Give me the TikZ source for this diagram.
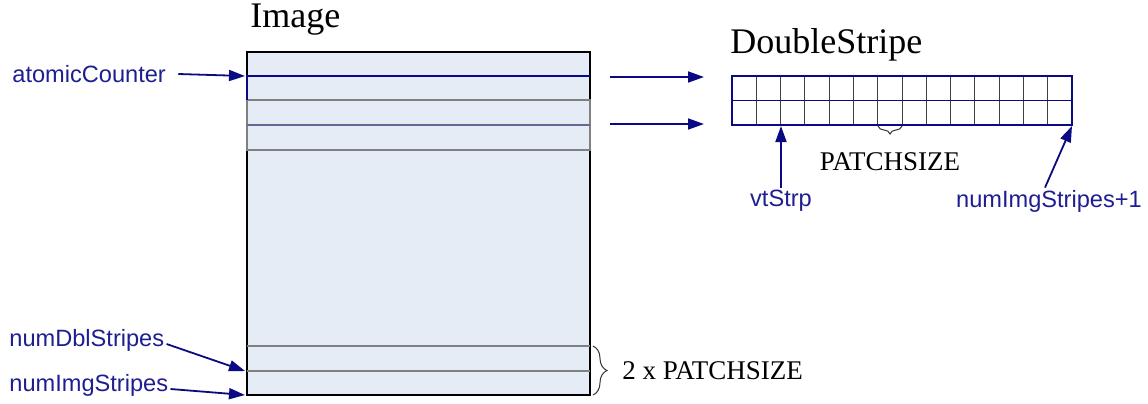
\documentclass[tikz,border=0pt]{standalone}
\usepackage{fontspec}
\setmainfont{Liberation Serif}
\setsansfont{Liberation Sans}
\usetikzlibrary{arrows.meta, decorations.pathreplacing}
\definecolor{lblblue}{RGB}{30,30,145}
\definecolor{arrblue}{RGB}{10,10,130}
\definecolor{imgfill}{RGB}{229,236,246}

\begin{document}
\begin{tikzpicture}[x=0.5pt, y=-0.5pt,
    lbl/.style = {font=\sffamily\fontsize{11.8}{14}\selectfont, text=lblblue, inner sep=1pt},
    ttl/.style = {font=\fontsize{18}{21}\selectfont, inner sep=0pt},
    sz/.style = {font=\fontsize{13.5}{16}\selectfont, inner sep=0pt},
    ptr/.style = {draw=arrblue, line width=0.9pt, -{Triangle[length=8pt, width=5.5pt]}},
    stripe/.style = {draw=gray, line width=0.9pt},
    brc/.style = {decorate, draw=black!80, line width=0.5pt}]
    \useasboundingbox (0,0) rectangle (1148,403);

    % image with its stripes
    \node[ttl, anchor=west] at (250,20) (imgtitle) {Image};
    \draw[fill=imgfill, line width=1.2pt] (247,52) rectangle (590,395);
    \draw[stripe] (247,100) rectangle (590,150);
    \draw[stripe, draw=gray!80!blue] (247,125) -- (590,125);
    \draw[stripe] (247,346) -- (590,346);
    \draw[stripe] (247,371) -- (590,371);
    \draw[arrblue, line width=0.9pt] (247,100) -- (247,76) -- (590,76);
    \coordinate (acTip) at (245,76);
    \coordinate (dblTip) at (245,371);
    \coordinate (imgTip) at (245,395);

    % double stripe
    \node[ttl, anchor=west] at (730,45) (dstitle) {DoubleStripe};
    \foreach \i in {1,...,13}
        \draw[black!75, line width=0.5pt] ({732+\i*24.29},76) -- ({732+\i*24.29},125);
    \draw[arrblue, line width=0.9pt] (732,76) rectangle (1072,125);
    \draw[arrblue, line width=0.9pt] (732,100.5) -- (1072,100.5);
    \coordinate (vtTip) at (781,126);
    \coordinate (endTip) at (1072,126);

    % rows copied over
    \coordinate (rowA) at (610,77);
    \coordinate (rowAend) at (704,77);
    \coordinate (rowB) at (610,124);
    \coordinate (rowBend) at (704,124);
    \draw[ptr] (rowA) -- (rowAend);
    \draw[ptr] (rowB) -- (rowBend);

    % braces
    \draw[brc, decoration={brace, mirror, amplitude=4pt}] (878,126) -- (902,126);
    \node[sz] at (890,162) (ps) {PATCHSIZE};
    \draw[brc, decoration={brace, amplitude=7pt}] (593,346) -- (593,395);
    \node[sz, anchor=west] at (622,371) (ps2) {2 x PATCHSIZE};

    % labels
    \node[lbl, anchor=west] at (10,74) (atom) {atomicCounter};
    \node[lbl, anchor=west] at (7,340) (dbl) {numDblStripes};
    \node[lbl, anchor=west] at (7,385) (imgs) {numImgStripes};
    \node[lbl] at (781,201) (vt) {vtStrp};
    \node[lbl] at (1049,201) (last) {numImgStripes+1};

    \draw[ptr] ([xshift=5pt]atom.east) -- (acTip);
    \draw[ptr] ([yshift=-2pt]dbl.east) -- (dblTip);
    \draw[ptr] ([yshift=-2pt]imgs.east) -- (imgTip);
    \draw[ptr] (vt.north) -- (vtTip);
    \draw[ptr] ([xshift=-2pt]last.north) -- (endTip);
\end{tikzpicture}
\end{document}
